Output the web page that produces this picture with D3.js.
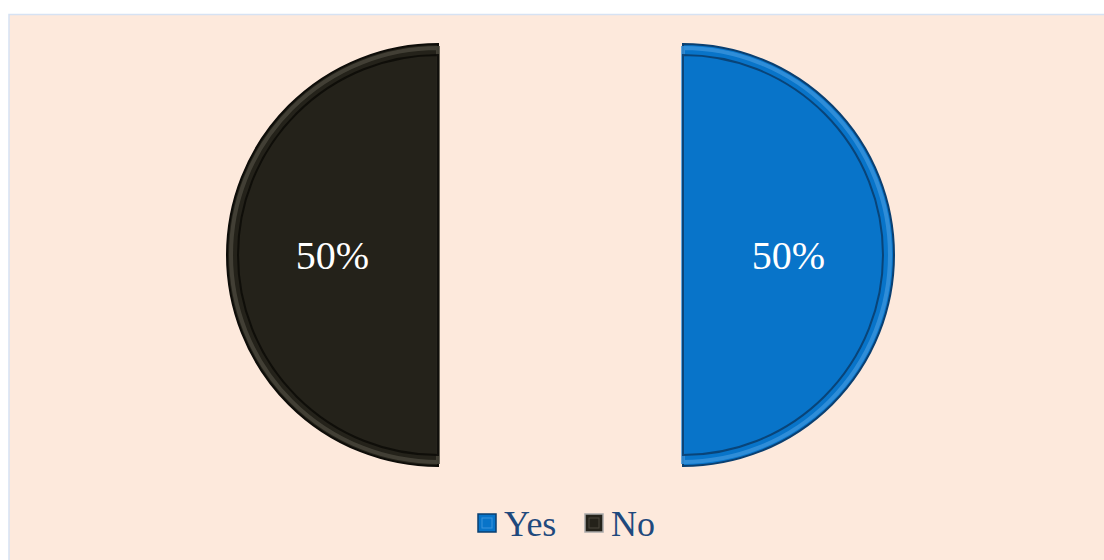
<!DOCTYPE html>
<meta charset="utf-8">
<script src="https://d3js.org/d3.v7.min.js"></script>
<style>
  body { margin: 0; background: #fff; }
  text { font-family: "Liberation Serif", "Times New Roman", serif; }
</style>
<div id="chart"></div>
<script>
// data
var categories = ["Yes", "No"];
var values = [50, 50];
var labels = ["50%", "50%"];
var colors = ["#0874c9", "#24221a"];
var edgeLight = ["#3a93dc", "#4a473c"];
var edgeDark = ["#0a3f70", "#0d0c08"];

var W = 1104, H = 560;
var cx = 560.5, cy = 255, r = 211, explode = 122.5;

var svg = d3.select("#chart").append("svg")
  .attr("width", W).attr("height", H);

// panel
svg.append("rect")
  .attr("x", 9).attr("y", 14.5)
  .attr("width", W).attr("height", H)
  .attr("fill", "#fde9dc")
  .attr("stroke", "#d6e2f3")
  .attr("stroke-width", 1.5);

var pie = d3.pie().sort(null).value(d => d.v);
var arcs = pie(categories.map((c, i) => ({c: c, v: values[i], i: i})));

var arc = d3.arc().innerRadius(0).outerRadius(r);
var arcIn = d3.arc().innerRadius(0).outerRadius(r - 11);
var labelArc = d3.arc().innerRadius(0).outerRadius(r);

var g = svg.append("g").attr("transform", "translate(" + cx + "," + cy + ")");

var slice = g.selectAll("g.slice")
  .data(arcs)
  .enter().append("g")
  .attr("class", "slice")
  .attr("transform", function(d) {
    var a = (d.startAngle + d.endAngle) / 2;
    return "translate(" + (Math.sin(a) * explode) + "," + (-Math.cos(a) * explode) + ")";
  });

// outer body with dark rim
slice.append("path")
  .attr("d", arc)
  .attr("fill", d => colors[d.data.i])
  .attr("stroke", d => edgeDark[d.data.i])
  .attr("stroke-width", 2);

// bevel: lighter band then inner shadow line
slice.append("path")
  .attr("d", d3.arc().innerRadius(0).outerRadius(r - 4))
  .attr("fill", "none")
  .attr("stroke", d => edgeLight[d.data.i])
  .attr("stroke-width", 4)
  .attr("opacity", 0.8);

slice.append("path")
  .attr("d", arcIn)
  .attr("fill", d => colors[d.data.i])
  .attr("stroke", d => edgeDark[d.data.i])
  .attr("stroke-width", 2)
  .attr("opacity", 0.9);

// labels
slice.append("text")
  .attr("transform", d => "translate(" + labelArc.centroid(d) + ")")
  .attr("text-anchor", "middle")
  .attr("dy", "0.36em")
  .attr("fill", "#fff")
  .style("font-size", "40px")
  .text((d, i) => labels[i]);

// legend
var legend = svg.append("g").attr("transform", "translate(0,523)");
var lx = [478, 585];
categories.forEach(function(c, i) {
  legend.append("rect")
    .attr("x", lx[i]).attr("y", -9)
    .attr("width", 18).attr("height", 18)
    .attr("fill", colors[i])
    .attr("stroke", i == 0 ? edgeDark[i] : "#a9a9a9")
    .attr("stroke-width", 1.5);
  legend.append("rect")
    .attr("x", lx[i] + 4).attr("y", -5)
    .attr("width", 10).attr("height", 10)
    .attr("fill", "none")
    .attr("stroke", edgeLight[i])
    .attr("stroke-width", 1);
  legend.append("text")
    .attr("x", lx[i] + 26).attr("y", 0)
    .attr("dy", "0.35em")
    .attr("fill", "#1f497d")
    .style("font-size", "36px")
    .text(c);
});
</script>
